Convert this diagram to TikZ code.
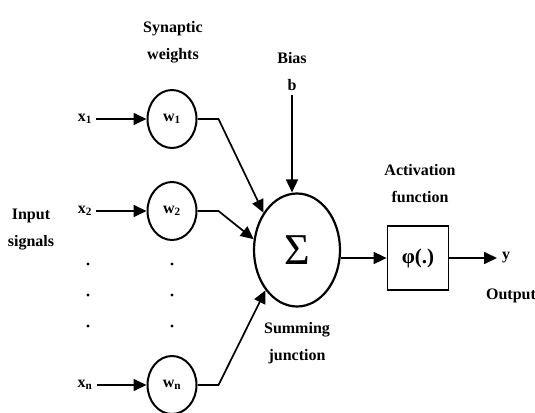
\documentclass[tikz,border=0pt]{standalone}
\usepackage{fontspec}
\setmainfont{Liberation Serif}
\usetikzlibrary{arrows.meta,positioning,shapes.geometric}

\begin{document}
\begin{tikzpicture}[x=1pt,y=-1pt,font=\fontsize{16}{27}\selectfont\bfseries,line width=1.7pt]
\useasboundingbox (0,0) rectangle (535,412);
\tikzset{wt/.style={draw,ellipse,line width=2pt,minimum width=49pt,minimum height=58pt,inner sep=0pt},
  lbl/.style={align=center},
  arr/.style={-{Triangle[length=13pt,width=12pt]}}}
% weights column
\node[lbl] (syn) at (173,42) {Synaptic\\weights};
\node[wt] (w1) at (172,119) {w\textsubscript{1}};
\node[wt] (w2) at (172,211) {w\textsubscript{2}};
\node[wt] (wn) at (172,385) {w\textsubscript{n}};
% inputs
\node (x1) at (85,119) {x\textsubscript{1}};
\node (x2) at (85,211) {x\textsubscript{2}};
\node (xn) at (85,385) {x\textsubscript{n}};
\node[lbl] (inp) at (31,230) {Input\\signals};
\foreach \y in {264,295,326} {
  \fill (88,\y) circle (1.6pt);
  \fill (172,\y) circle (1.6pt);
}
\draw[arr] (x1) -- (w1);
\draw[arr] (x2) -- (w2);
\draw[arr] (xn) -- (wn);
% summing junction
\node[draw,ellipse,line width=2.2pt,minimum width=86pt,minimum height=113pt,inner sep=0pt,
  font=\fontsize{44}{44}\selectfont] (sum) at (297,250) {Σ};
\node[lbl] (sumlbl) at (297,343) {Summing\\junction};
\node[lbl] (bias) at (292,72) {Bias\\b};
\draw[arr] (bias.south) -- (bias.south |- sum.north);
\draw[arr] (w1.east) -- ++(21,0) -- (sum.132);
\draw[arr] (w2.east) -- ++(21,0) -- (sum.166);
\draw[arr] (wn.east) -- ++(21,0) -- (sum.232);
% activation
\node[draw,line width=1.8pt,minimum width=61pt,minimum height=64pt,
  font=\fontsize{21}{21}\selectfont\bfseries] (act) at (418,258) {φ(.)};
\node[lbl] (actlbl) at (420,184) {Activation\\function};
\draw[arr] (sum.east |- act.west) -- (act.west);
\coordinate (out) at (497,258);
\draw[arr] (act.east) -- (out);
\node[right=1pt of out] (y) {y};
\node (outlbl) at (511,296) {Output};
\end{tikzpicture}
\end{document}
